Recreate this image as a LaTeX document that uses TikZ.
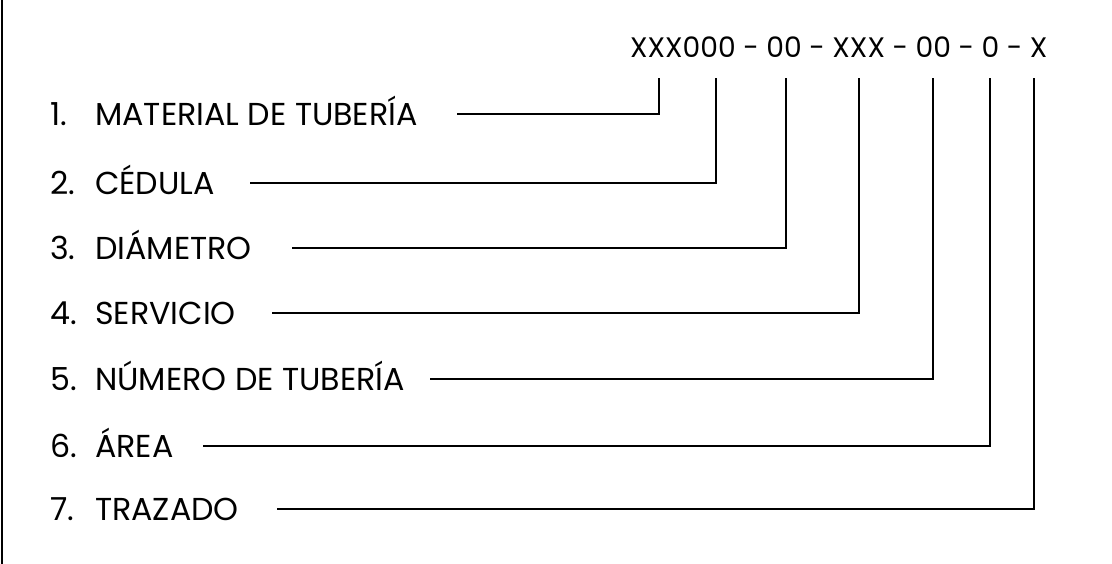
\documentclass[tikz,border=0pt]{standalone}
\usepackage{fontspec}
\setmainfont{Poppins}
\begin{document}
\begin{tikzpicture}[x=1pt,y=-1pt,
  lbl/.style={anchor=west,inner sep=0pt,text height=22.4pt,text depth=0pt,font=\fontsize{31.7}{33}\selectfont},
  codetxt/.style={anchor=west,inner sep=0pt,text height=20pt,text depth=0pt,font=\fontsize{28.2}{29}\selectfont},
  conn/.style={line width=1.7pt,black}]
\useasboundingbox (0,0) rectangle (1112,564);
\draw[line width=2pt] (2,0) -- (2,564);
\node[codetxt] (code) at (630,48) {XXX000 - 00 - XXX - 00 - 0 - X};
% label rows
\foreach \n/\y/\t/\s [count=\i] in {1/114/MATERIAL DE TUBERÍA/457,2/183/CÉDULA/250,3/248/DIÁMETRO/292,4/313/SERVICIO/272,5/379/NÚMERO DE TUBERÍA/430,6/446/ÁREA/203,7/509/TRAZADO/277}{
  \node[lbl] (num\i) at (50,\y) {\n.};
  \node[lbl] (lab\i) at (95,\y) {\t};
  \coordinate (s\i) at (\s,\y);
}
\foreach \x [count=\i] in {659,716,786,859,933,990,1034}{
  \coordinate (t\i) at (\x,78);
}
\foreach \i in {1,...,7}{
  \draw[conn] (s\i) -| (t\i);
}
\end{tikzpicture}
\end{document}
